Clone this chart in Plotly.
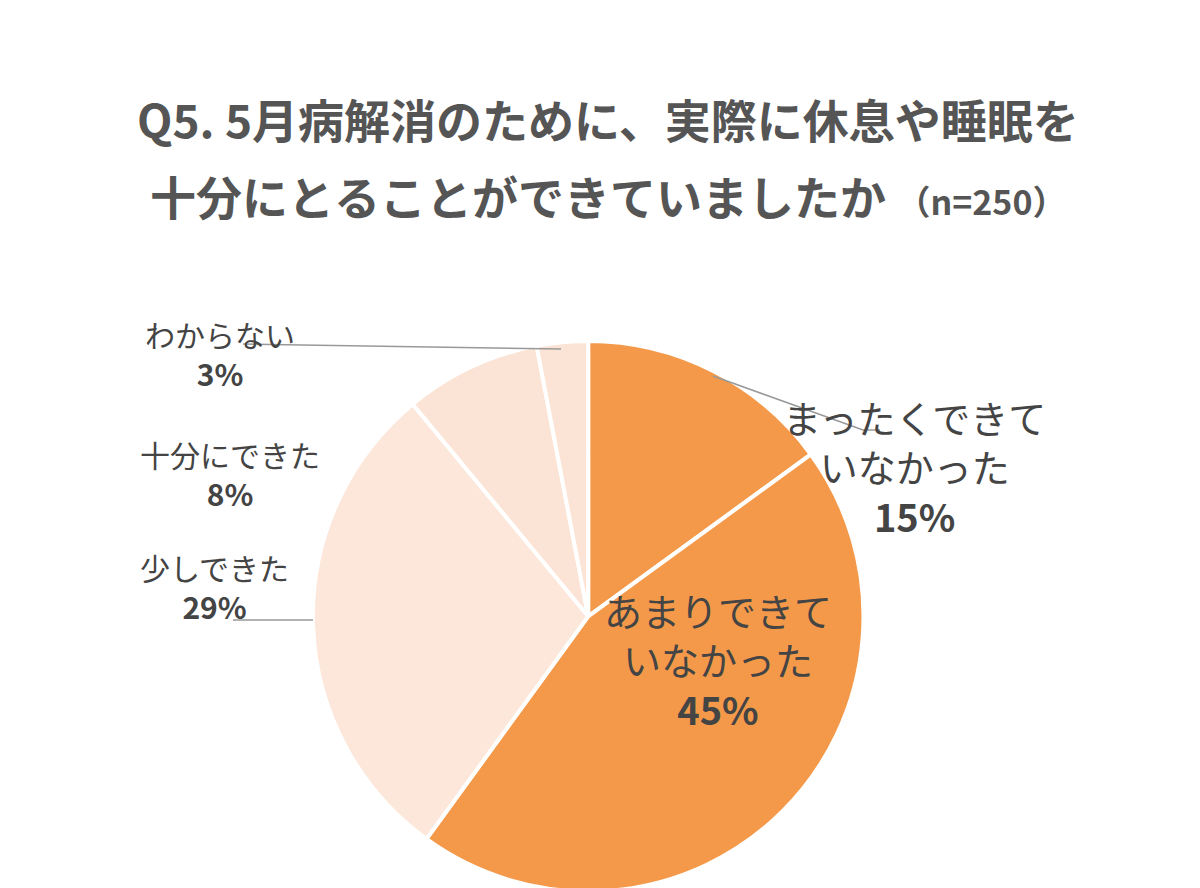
import plotly.graph_objects as go

labels = ['まったくできて<br>いなかった', 'あまりできて<br>いなかった', '少しできた', '十分にできた', 'わからない']
values = [15, 45, 29, 8, 3]
colors = ['#F4994A', '#F4994A', '#FCE7DA', '#FBE4D5', '#FBE4D5']

font = 'Noto Sans CJK JP'
fig = go.Figure(go.Pie(
    labels=labels, values=values, sort=False, direction='clockwise', rotation=0,
    marker=dict(colors=colors, line=dict(color='white', width=4)),
    textinfo='none', hoverinfo='label+percent', showlegend=False,
    domain=dict(x=[0.252, 0.715], y=[0.005, 0.625]),
))

# label placement (paper px from top-left)
pos = [(1040, 458, 38), (710, 730, 38), (130, 622, 30), (130, 465, 30), (135, 345, 30)]
anns = []
for (x, y, fs), lab, v in zip(pos, labels, values):
    anns.append(dict(x=x / 1200, y=1 - y / 888, xref='paper', yref='paper', showarrow=False,
                     text=f'{lab}<br><b>{v}%</b>', font=dict(size=fs, color='#444', family=font),
                     align='center'))

title_lines = ['<b>Q5. 5月病解消のために、実際に休息や睡眠を</b>',
               '<b>十分にとることができていましたか <span style="font-size:34px">（n=250）</span></b>']
for ty, t in zip([75, 152], title_lines):
    anns.append(dict(x=0.5, y=1 - ty / 888, xref='paper', yref='paper', showarrow=False,
                     text=t, font=dict(size=46, color='#555', family=font)))

fig.update_layout(
    width=1200, height=888, margin=dict(l=0, r=0, t=0, b=0),
    paper_bgcolor='white', plot_bgcolor='white',
    annotations=anns,
    shapes=[
        dict(type='path', xref='paper', yref='paper', line=dict(color='#999', width=1.5),
             path=f'M {705/1200} {1-368/888} L {855/1200} {1-422/888} L {872/1200} {1-422/888}'),
        dict(type='line', xref='paper', yref='paper', x0=225/1200, x1=305/1200,
             y0=1 - 612/888, y1=1 - 612/888, line=dict(color='#999', width=1.5)),
        dict(type='line', xref='paper', yref='paper', x0=235/1200, x1=553/1200,
             y0=1 - 336/888, y1=1 - 341/888, line=dict(color='#999', width=1.5)),
    ],
)
fig.write_html('out.html')
